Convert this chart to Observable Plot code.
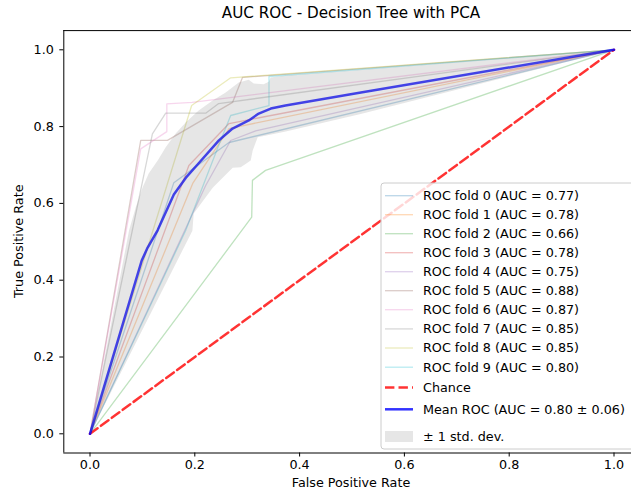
<!DOCTYPE html>
<html>
<head>
<meta charset="utf-8">
<script src="https://cdn.jsdelivr.net/npm/d3@7"></script>
<script src="https://cdn.jsdelivr.net/npm/@observablehq/plot@0.6"></script>
<style>
  html, body { margin: 0; padding: 0; background: #fff; }
  svg { display: block; }
</style>
</head>
<body>
<div id="chart"></div>
<script>
// ---- data ----
const foldAUC = [0.77, 0.78, 0.66, 0.78, 0.75, 0.88, 0.87, 0.85, 0.85, 0.80];
const foldFPR = [
  [0, 0.160, 0.2653, 1],
  [0, 0.196, 0.2653, 1],
  [0, 0.3086, 0.310, 0.335, 1],
  [0, 0.1887, 0.2653, 1],
  [0, 0.2208, 0.2685, 0.3162, 1],
  [0, 0.0968, 0.1478, 0.272, 0.291, 1],
  [0, 0.0968, 0.1466, 0.1466, 0.195, 1],
  [0, 0.1191, 0.1445, 0.2208, 0.2456, 1],
  [0, 0.194, 0.2685, 1],
  [0, 0.1826, 0.2418, 0.2685, 0.3416, 0.3416, 1]
];
const foldTPR = [
  [0, 0.654, 0.7586, 1],
  [0, 0.652, 0.795, 1],
  [0, 0.564, 0.660, 0.686, 1],
  [0, 0.6987, 0.808, 1],
  [0, 0.6466, 0.7638, 0.789, 1],
  [0, 0.764, 0.764, 0.863, 0.928, 1],
  [0, 0.742, 0.787, 0.859, 0.863, 1],
  [0, 0.781, 0.835, 0.835, 0.860, 1],
  [0, 0.855, 0.927, 1],
  [0, 0.5294, 0.7378, 0.8289, 0.8549, 0.9305, 1]
];
const foldColors = ["#1f77b4","#ff7f0e","#2ca02c","#d62728","#9467bd","#8c564b","#e377c2","#7f7f7f","#bcbd22","#17becf"];
const chanceFPR = [0, 1];
const chanceTPR = [0, 1];
const meanFPR = [0, 0.0987, 0.110, 0.129, 0.160, 0.183, 0.207, 0.246, 0.272, 0.303, 0.322, 0.345, 0.373, 0.517, 1];
const meanTPR = [0, 0.451, 0.485, 0.530, 0.623, 0.667, 0.704, 0.764, 0.795, 0.816, 0.834, 0.847, 0.855, 0.889, 1];
const meanAUC = 0.80, stdAUC = 0.06;
const upperFPR = [0, 0.0744, 0.0872, 0.1006, 0.1120, 0.1292, 0.1445, 0.1635, 0.1826, 0.2074, 0.2341, 0.2590, 0.2838, 0.3029, 0.3124, 0.3315, 0.3410, 0.3448, 0.3735, 0.5166, 1];
const upperTPR = [0, 0.529, 0.589, 0.642, 0.678, 0.712, 0.746, 0.782, 0.811, 0.842, 0.868, 0.889, 0.915, 0.922, 0.912, 0.910, 0.917, 0.928, 0.933, 0.948, 1];
const lowerFPR = [0, 0.1954, 0.1979, 0.2342, 0.2723, 0.2876, 0.3067, 0.3105, 0.3200, 0.3735, 0.5166, 1];
const lowerTPR = [0, 0.529, 0.574, 0.641, 0.693, 0.694, 0.712, 0.738, 0.772, 0.787, 0.833, 1];
const xTicks = [0, 0.2, 0.4, 0.6, 0.8, 1.0];
const yTicks = [0, 0.2, 0.4, 0.6, 0.8, 1.0];

// ---- tables built from the arrays ----
const foldRows = foldFPR.flatMap((fs, k) => fs.map((f, i) => ({fold: k, fpr: f, tpr: foldTPR[k][i]})));
const chanceRows = chanceFPR.map((f, i) => ({fpr: f, tpr: chanceTPR[i]}));
const meanRows = meanFPR.map((f, i) => ({fpr: f, tpr: meanTPR[i]}));
const bandRows = upperFPR.map((f, i) => ({fpr: f, tpr: upperTPR[i]}))
  .concat(lowerFPR.map((f, i) => ({fpr: f, tpr: lowerTPR[i]})).reverse());

const W = 631, H = 491;
const font = "DejaVu Sans, sans-serif";
const fs = "12.75px";

const svg = Plot.plot({
  width: W,
  height: H,
  marginLeft: 63.3,
  marginRight: 0,
  marginTop: 30.1,
  marginBottom: 38.5,
  style: {fontFamily: font, fontSize: fs, color: "#000", background: "#fff"},
  x: {domain: [-0.05, 1 + (W - 613.5) / 524], ticks: xTicks, tickFormat: ".1f", tickSize: 4, tickPadding: 3, label: null},
  y: {domain: [-0.05, 1.05], ticks: yTicks, tickFormat: ".1f", tickSize: 4, tickPadding: 6, label: null},
  marks: [
    Plot.line(foldRows, {x: "fpr", y: "tpr", z: "fold", stroke: d => foldColors[d.fold], strokeWidth: 1.3, strokeOpacity: 0.3}),
    Plot.line(chanceRows, {x: "fpr", y: "tpr", stroke: "red", strokeWidth: 2.5, strokeOpacity: 0.8, strokeDasharray: "9.4,4.1"}),
    Plot.line(meanRows, {x: "fpr", y: "tpr", stroke: "blue", strokeWidth: 2.5, strokeOpacity: 0.8}),
    Plot.line(bandRows, {x: "fpr", y: "tpr", stroke: "none", fill: "grey", fillOpacity: 0.2}),
    Plot.ruleX([-0.05], {stroke: "#000", strokeWidth: 1}),
    Plot.ruleY([-0.05], {stroke: "#000", strokeWidth: 1}),
    Plot.ruleY([1.05], {stroke: "#000", strokeWidth: 1})
  ]
});

const s = d3.select(svg);
// title and axis labels
s.append("text").attr("x", 351).attr("y", 13).attr("dy", "0.35em").attr("text-anchor", "middle")
  .attr("font-family", font).attr("font-size", "15.2px").attr("fill", "#000").text("AUC ROC - Decision Tree with PCA");
s.append("text").attr("x", 351).attr("y", 483).attr("dy", "0.35em").attr("text-anchor", "middle")
  .attr("font-family", font).attr("font-size", fs).attr("fill", "#000").text("False Positive Rate");
s.append("text").attr("transform", "translate(19,241.3) rotate(-90)").attr("dy", "0.35em").attr("text-anchor", "middle")
  .attr("font-family", font).attr("font-size", fs).attr("fill", "#000").text("True Positive Rate");

// legend
const lg = s.append("g").attr("font-family", font).attr("font-size", fs).attr("text-anchor", "start");
lg.append("rect").attr("x", 381).attr("y", 183).attr("width", 270).attr("height", 266).attr("rx", 3)
  .attr("fill", "#fff").attr("fill-opacity", 0.8).attr("stroke", "#cccccc");
const rowY = [195.7, 214.7, 233.7, 252.7, 271.7, 290.7, 309.7, 328.9, 348.0, 367.2];
foldAUC.forEach((a, k) => {
  lg.append("line").attr("x1", 385).attr("x2", 413).attr("y1", rowY[k]).attr("y2", rowY[k])
    .attr("stroke", foldColors[k]).attr("stroke-opacity", 0.3).attr("stroke-width", 1.3);
  lg.append("text").attr("x", 423).attr("y", rowY[k]).attr("dy", "0.35em").attr("fill", "#000")
    .attr("text-anchor", "start").text(`ROC fold ${k} (AUC = ${a.toFixed(2)})`);
});
lg.append("line").attr("x1", 385).attr("x2", 413).attr("y1", 387.5).attr("y2", 387.5)
  .attr("stroke", "red").attr("stroke-opacity", 0.8).attr("stroke-width", 2.5).attr("stroke-dasharray", "9.4,4.1");
lg.append("text").attr("x", 423).attr("y", 387.5).attr("dy", "0.35em").attr("fill", "#000")
  .attr("text-anchor", "start").text("Chance");
lg.append("line").attr("x1", 385).attr("x2", 413).attr("y1", 409.3).attr("y2", 409.3)
  .attr("stroke", "blue").attr("stroke-opacity", 0.8).attr("stroke-width", 2.5);
lg.append("text").attr("x", 423).attr("y", 409.3).attr("dy", "0.35em").attr("fill", "#000")
  .attr("text-anchor", "start").text(`Mean ROC (AUC = ${meanAUC.toFixed(2)} ± ${stdAUC.toFixed(2)})`);
lg.append("rect").attr("x", 385).attr("y", 431).attr("width", 28).attr("height", 11)
  .attr("fill", "grey").attr("fill-opacity", 0.2);
lg.append("text").attr("x", 423).attr("y", 436.5).attr("dy", "0.35em").attr("fill", "#000")
  .attr("text-anchor", "start").text("± 1 std. dev.");

document.getElementById("chart").appendChild(svg);
</script>
</body>
</html>
